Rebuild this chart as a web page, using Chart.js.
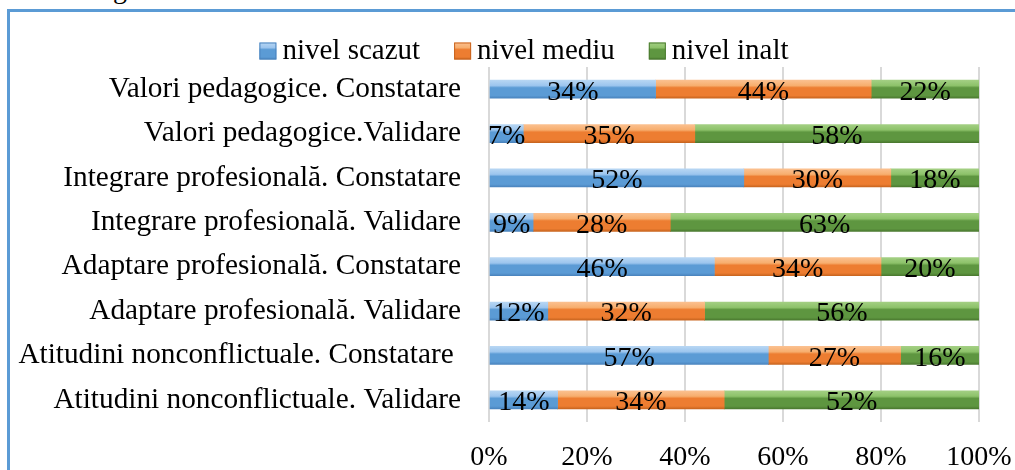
<!DOCTYPE html>
<html>
<head>
<meta charset="utf-8">
<script src="https://cdn.jsdelivr.net/npm/chart.js@4"></script>
<style>
  body { margin: 0; background: #fff; overflow: hidden; }
  #frame { position: absolute; left: 7px; top: 9px; width: 2000px; height: 800px;
    border-top: 3px solid #5B9BD5; border-left: 3px solid #5B9BD5; }
  #cut { position: absolute; left: 113px; top: -27px; font: 28px "Liberation Serif", serif; color: #000; }
  #wrap { position: absolute; left: 0; top: 0; width: 1015px; height: 470px; }
</style>
</head>
<body>
<div id="cut">g</div>
<div id="frame"></div>
<div id="wrap"><canvas id="myChart" width="1015" height="470"></canvas></div>
<script>
//Categories from top to bottom, the trailing space is in the original label
let categories = [
  "Valori pedagogice. Constatare",
  "Valori pedagogice.Validare",
  "Integrare profesională. Constatare",
  "Integrare profesională. Validare",
  "Adaptare profesională. Constatare",
  "Adaptare profesională. Validare",
  "Atitudini nonconflictuale. Constatare ",
  "Atitudini nonconflictuale. Validare"
];
//Percent of each level per category
let scazut = [34, 7, 52, 9, 46, 12, 57, 14];
let mediu = [44, 35, 30, 28, 34, 32, 27, 34];
let inalt = [22, 58, 18, 63, 20, 56, 16, 52];
let seriesNames = ["nivel scazut", "nivel mediu", "nivel inalt"];
let xTicks = [0, 20, 40, 60, 80, 100];

//Light top, base face, dark bottom edge for the bevel look
let blue = ['#B7D6F3', '#9CC5EE', '#5B9BD5', '#4A84BE'];
let orange = ['#FBC08F', '#F7AE6E', '#ED7D31', '#C9651F'];
let green = ['#A3CF83', '#8DC26A', '#5E9640', '#4B7A30'];
let colours = [blue, orange, green];

const serif = '"Liberation Serif", "Times New Roman", serif';
Chart.defaults.font.family = serif;
Chart.defaults.color = '#000';

//Gradient between two y positions with the bevel stops
let bevel = (c2d, c, top, bottom) => {
  let g = c2d.createLinearGradient(0, top, 0, bottom);
  g.addColorStop(0, c[0]);
  g.addColorStop(0.3, c[1]);
  g.addColorStop(0.42, c[2]);
  g.addColorStop(0.85, c[2]);
  g.addColorStop(1, c[3]);
  return g;
};

//Builds a vertical gradient that follows each bar
let barFill = (c) => (ctx) => {
  let chart = ctx.chart;
  let y = chart.scales.y;
  if (!y || ctx.dataIndex === undefined) return c[2];
  let cy = y.getPixelForValue(ctx.dataIndex);
  //Scales are not placed yet on the very first pass
  if (!isFinite(cy)) return c[2];
  return bevel(chart.ctx, c, cy - 9, cy + 9);
};

//Writes the value in the middle of every segment
const valueLabels = {
  id: 'valueLabels',
  afterDatasetsDraw(chart) {
    let c = chart.ctx;
    c.save();
    c.font = '28px ' + serif;
    c.fillStyle = '#000';
    c.textAlign = 'center';
    c.textBaseline = 'middle';
    chart.data.datasets.forEach((ds, i) => {
      chart.getDatasetMeta(i).data.forEach((bar, j) => {
        let mid = (bar.x + bar.base) / 2;
        c.fillText(ds.data[j] + '%', mid, bar.y + 3);
      });
    });
    c.restore();
  }
};

//Legend in one row above the plot: small square, short gap, then the name
const topLegend = {
  id: 'topLegend',
  afterDraw(chart) {
    let c = chart.ctx;
    c.save();
    c.font = '29px ' + serif;
    c.textBaseline = 'middle';
    c.textAlign = 'left';
    let box = 17, gap = 6, space = 34, cy = 51;
    let widths = chart.data.datasets.map(ds => c.measureText(ds.label).width);
    let total = widths.reduce((a, w) => a + box + gap + w, 0) + space * (widths.length - 1);
    let x = 524 - total / 2;
    chart.data.datasets.forEach((ds, i) => {
      let col = colours[i];
      c.fillStyle = bevel(c, col, cy - box / 2, cy + box / 2);
      c.fillRect(x, cy - box / 2, box, box);
      c.strokeStyle = col[3];
      c.lineWidth = 1;
      c.strokeRect(x + 0.5, cy - box / 2 + 0.5, box - 1, box - 1);
      c.fillStyle = '#000';
      c.fillText(ds.label, x + box + gap, cy);
      x += box + gap + widths[i] + space;
    });
    c.restore();
  }
};

let config = {
  type: 'bar',
  data: {
    labels: categories,
    datasets: [scazut, mediu, inalt].map((d, i) => ({
      label: seriesNames[i],
      data: d,
      backgroundColor: barFill(colours[i]),
      borderWidth: 0,
      barThickness: 18
    }))
  },
  options: {
    indexAxis: 'y',
    responsive: false,
    animation: false,
    layout: { padding: { left: 10, right: 36, top: 67, bottom: 0 } },
    scales: {
      x: {
        stacked: true,
        min: 0,
        max: 100,
        afterBuildTicks: (s) => { s.ticks = xTicks.map(v => ({ value: v })); },
        //The last tick label may run past the plot, as in the original
        afterFit: (s) => { s.height = 48; s.paddingRight = 0; s.paddingLeft = 0; },
        border: { display: false },
        grid: { color: '#D9D9D9', lineWidth: 2, drawTicks: false },
        ticks: {
          color: '#000',
          padding: 19,
          maxRotation: 0,
          font: { family: serif, size: 28 },
          callback: (v) => v + '%'
        }
      },
      y: {
        stacked: true,
        afterFit: (s) => { s.width = 479; s.paddingTop = 0; s.paddingBottom = 0; },
        border: { display: false },
        grid: { display: false, drawTicks: false },
        ticks: { color: '#000', padding: 28, font: { family: serif, size: 29.3 } }
      }
    },
    plugins: {
      tooltip: { enabled: false },
      legend: { display: false }
    }
  },
  plugins: [valueLabels, topLegend]
};

const ctx = document.getElementById("myChart").getContext("2d");
let myChart = new Chart(ctx, config);
</script>
</body>
</html>
